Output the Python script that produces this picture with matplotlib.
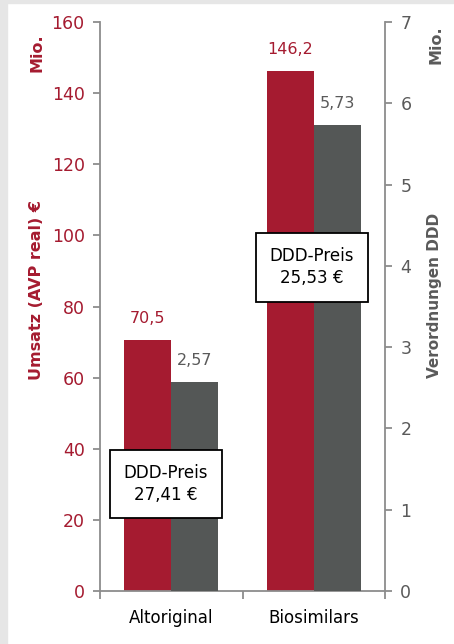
import matplotlib
matplotlib.use("Agg")
import matplotlib.pyplot as plt
from matplotlib.patches import Rectangle

plt.rcParams['font.family'] = ['DejaVu Sans']

categories = ["Altoriginal", "Biosimilars"]
umsatz = [70.5, 146.2]          # Mio. €
verordnungen = [2.57, 5.73]     # Mio. DDD
umsatz_labels = ["70,5", "146,2"]
ddd_labels = ["2,57", "5,73"]
preis_labels = ["DDD-Preis\n27,41 €", "DDD-Preis\n25,53 €"]

RED = "#a51b30"
DARK = "#545756"
GREY_TXT = "#5a5a5a"
SPINE = "#8c8c8c"

fig = plt.figure(figsize=(4.54, 6.44), dpi=100)
# light frame on the left and top edge
fig.patches.append(Rectangle((0, 0), 7 / 454, 1, transform=fig.transFigure,
                             color="#e6e6e6", zorder=0))
fig.patches.append(Rectangle((0, 1 - 3 / 644), 1, 3 / 644, transform=fig.transFigure,
                             color="#e6e6e6", zorder=0))

ax = fig.add_axes([100 / 454, 1 - 591 / 644, 285 / 454, 569 / 644])
ax2 = ax.twinx()

w = 0.33
x = range(len(categories))
ax.bar([i - w / 2 for i in x], umsatz, width=w, color=RED, zorder=2)
ax2.bar([i + w / 2 for i in x], verordnungen, width=w, color=DARK, zorder=2)

for i in x:
    ax.text(i - w / 2, umsatz[i] + 4.0, umsatz_labels[i], ha="center", va="bottom",
            color=RED, fontsize=11.5)
    ax2.text(i + w / 2, verordnungen[i] + 0.17, ddd_labels[i], ha="center", va="bottom",
             color=GREY_TXT, fontsize=11.5)

ax.set_xlim(-0.5, 1.5)
ax.set_ylim(0, 160)
ax2.set_ylim(0, 7)
ax.set_yticks(range(0, 161, 20))
ax2.set_yticks(range(0, 8))

for a in (ax, ax2):
    a.spines["top"].set_visible(False)
    for s in a.spines.values():
        s.set_color(SPINE)
        s.set_linewidth(1.3)
ax.spines["right"].set_visible(False)
ax2.spines["left"].set_visible(False)
ax2.spines["bottom"].set_visible(False)

ax.tick_params(axis="y", colors=SPINE, labelcolor=RED, labelsize=12.5, length=5, width=1.3, pad=6)
ax2.tick_params(axis="y", colors=SPINE, labelcolor=GREY_TXT, labelsize=12.5, length=5, width=1.3, pad=6)

ax.set_xticks([-0.5, 0.5, 1.5])
ax.set_xticklabels([])
ax.set_xticks([0, 1], minor=True)
ax.set_xticklabels(categories, minor=True, fontsize=12, color="black")
ax.tick_params(axis="x", which="major", colors=SPINE, length=6, width=1.3)
ax.tick_params(axis="x", which="minor", length=0, pad=13)

# price boxes
box_pos = [(-0.037, 30.1), (0.988, 91.0)]
for (bx, by), txt in zip(box_pos, preis_labels):
    ax2.text(bx, by * 7 / 160, txt, ha="center", va="center", fontsize=12,
             linespacing=1.3, zorder=5,
             bbox=dict(boxstyle="square,pad=0.85", fc="white", ec="black", lw=1.3))

fig.text(37 / 454, 1 - 290 / 644, "Umsatz (AVP real) €", rotation=90, ha="center",
         va="center", color=RED, fontsize=11.5, fontweight="bold")
fig.text(37 / 454, 1 - 53 / 644, "Mio.", rotation=90, ha="center", va="center",
         color=RED, fontsize=11.5, fontweight="bold")
fig.text(434 / 454, 1 - 295 / 644, "Verordnungen DDD", rotation=90, ha="center",
         va="center", color=GREY_TXT, fontsize=11, fontweight="bold")
fig.text(436 / 454, 1 - 45 / 644, "Mio.", rotation=90, ha="center", va="center",
         color=GREY_TXT, fontsize=11.5, fontweight="bold")

fig.savefig("out.png", dpi=100)
